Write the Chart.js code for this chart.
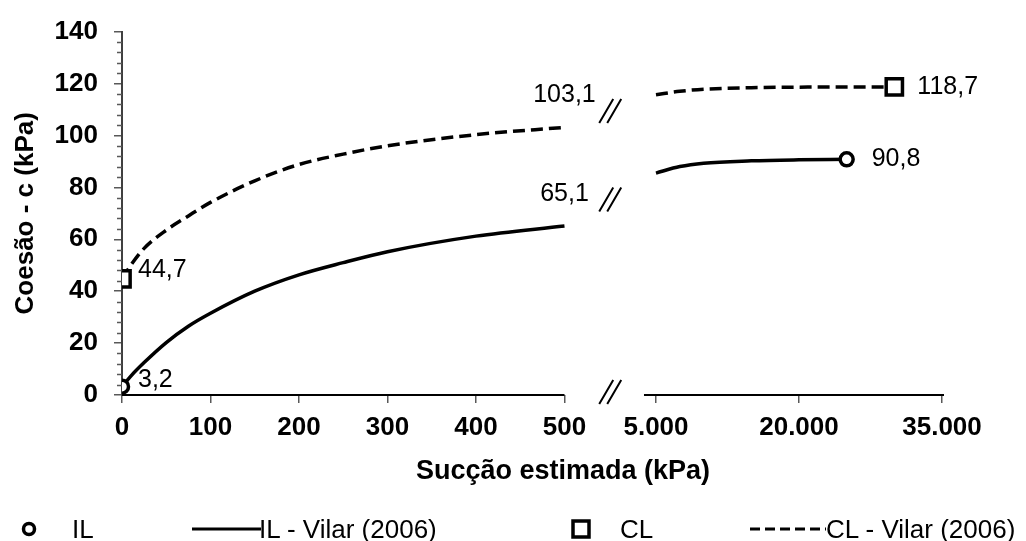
<!DOCTYPE html>
<html>
<head>
<meta charset="utf-8">
<script src="https://cdn.jsdelivr.net/npm/chart.js@4.4.1/dist/chart.umd.min.js"></script>
<style>
    body { margin: 0; background: #fff; }
    #wrap { position: relative; width: 1026px; height: 541px; }
    #legend { position: absolute; left: 0; top: 0; width: 1026px; height: 541px; pointer-events: none;
              font-family: 'Liberation Sans', Arial, sans-serif; font-size: 26px; color: #000; }
    .item { position: absolute; top: 514px; height: 30px; line-height: 30px; white-space: nowrap; }
    #xtitle { position: absolute; left: 363px; width: 400px; top: 454px; line-height: 32px; text-align: center;
              font-weight: bold; font-size: 27px; }
</style>
</head>
<body>
<div id="wrap">
    <canvas id="chart"></canvas>
    <div id="legend">
        <div id="xtitle">Sucção estimada (kPa)</div>
        <svg style="position:absolute;left:0;top:509px" width="1026" height="40">
            <circle cx="29" cy="20" r="5.5" fill="#fff" stroke="#000" stroke-width="3.5"/>
            <line x1="192" y1="20" x2="261" y2="20" stroke="#000" stroke-width="3"/>
            <rect x="573" y="12" width="16" height="16" fill="#fff" stroke="#000" stroke-width="3.5"/>
            <line x1="750" y1="20" x2="826" y2="20" stroke="#000" stroke-width="3" stroke-dasharray="10 5"/>
        </svg>
        <span class="item" style="left:72px">IL</span>
        <span class="item" style="left:259px">IL - Vilar (2006)</span>
        <span class="item" style="left:620px">CL</span>
        <span class="item" style="left:826px">CL - Vilar (2006)</span>
    </div>
</div>
<script>
// values: suction (kPa) vs cohesion c (kPa)
const ilSuction = [0, 10, 25, 50, 75, 100, 150, 200, 250, 300, 400, 500];
const ilCohesion = [3.2, 7.3, 12.5, 20.2, 26.5, 31.5, 40, 46.3, 51, 55.2, 61.2, 65.1];
const ilSuctionHigh = [5000, 7500, 10000, 15000, 20000, 25000];
const ilCohesionHigh = [85.5, 88, 89.3, 90.2, 90.6, 90.8];

const clSuction = [0, 10, 25, 50, 75, 100, 150, 200, 250, 300, 400, 500];
const clCohesion = [44.7, 50, 56.5, 63.5, 69, 74.2, 82.5, 88.8, 92.8, 96, 100.3, 103.1];
const clSuctionHigh = [5000, 7500, 10000, 15000, 20000, 30000];
const clCohesionHigh = [115.7, 117, 117.8, 118.4, 118.6, 118.7];

// measured points (markers)
const ilMeasSuction = [0, 25000];
const ilMeasCohesion = [3.2, 90.8];
const clMeasSuction = [0, 30000];
const clMeasCohesion = [44.7, 118.7];

// x axis ticks (axis is broken between 500 and 5.000)
const xTickValues = [0, 100, 200, 300, 400, 500, 5000, 20000, 35000];
const xTickLabels = ['0', '100', '200', '300', '400', '500', '5.000', '20.000', '35.000'];

// value labels: suction, cohesion
const labelSuction = [0, 0, 500, 500, 25000, 30000];
const labelCohesion = [3.2, 44.7, 65.1, 103.1, 90.8, 118.7];

// maps a suction value onto the broken axis
const LOW_END = 500;
const HIGH_START = 5000;
const HIGH_AT = 603.4;
const HIGH_FACTOR = 323.2 / 30000;
function toAxis(s) {
    if (s <= LOW_END) return s;
    return HIGH_AT + (s - HIGH_START) * HIGH_FACTOR;
}
const breakAt = (toAxis(LOW_END) + toAxis(HIGH_START)) / 2;

function toPoints(xs, ys) {
    return xs.map((x, i) => ({ x: toAxis(x), y: ys[i] }));
}

Chart.defaults.font.family = "'Liberation Sans', Arial, sans-serif";
Chart.defaults.color = '#000';

const solid = { borderColor: '#000', borderWidth: 3.5, pointRadius: 0, fill: false, cubicInterpolationMode: 'monotone' };
const dashed = Object.assign({}, solid, { borderDash: [12, 6] });
const marker = { showLine: false, borderColor: '#000', backgroundColor: '#fff', pointBorderWidth: 3.5 };

function middle(a, b) {
    return (a + b) / 2;
}

// draws the axis line with its gap, the // marks, minor ticks and value labels
const extrasPlugin = {
    id: 'extras',
    afterDatasetsDraw(chart) {
        const ctx = chart.ctx;
        const x = chart.scales.x;
        const y = chart.scales.y;
        const y0 = y.getPixelForValue(0);
        ctx.save();

        // x axis line, split
        ctx.strokeStyle = '#000';
        ctx.lineWidth = 2;
        ctx.beginPath();
        ctx.moveTo(x.getPixelForValue(0), y0);
        ctx.lineTo(x.getPixelForValue(toAxis(LOW_END)), y0);
        ctx.moveTo(x.getPixelForValue(toAxis(HIGH_START)) - 12, y0);
        ctx.lineTo(x.getPixelForValue(toAxis(35000)) + 2, y0);
        ctx.stroke();

        // minor ticks on y
        ctx.strokeStyle = '#595959';
        ctx.lineWidth = 1.5;
        ctx.beginPath();
        for (let v = 4; v < 140; v += 4) {
            if (v % 20 === 0) continue;
            const py = Math.round(y.getPixelForValue(v)) + 0.5;
            ctx.moveTo(x.left - 5, py);
            ctx.lineTo(x.left, py);
        }
        ctx.stroke();

        // break marks
        const bx = x.getPixelForValue(breakAt);
        const marks = [
            y0 - 3,
            y.getPixelForValue(middle(ilCohesion[ilCohesion.length - 1], ilCohesionHigh[0])),
            y.getPixelForValue(middle(clCohesion[clCohesion.length - 1], clCohesionHigh[0]))
        ];
        ctx.strokeStyle = '#000';
        ctx.lineWidth = 2;
        marks.forEach(my => {
            ctx.beginPath();
            [-4, 4].forEach(dx => {
                ctx.moveTo(bx + dx - 7, my + 12);
                ctx.lineTo(bx + dx + 7, my - 12);
            });
            ctx.stroke();
        });

        // value labels
        ctx.font = "25px 'Liberation Sans', Arial, sans-serif";
        ctx.fillStyle = '#000';
        ctx.textBaseline = 'middle';
        const offsets = [[16, -7, 'left'], [16, -9, 'left'], [0, -32, 'center'], [0, -32, 'center'], [25, 0, 'left'], [23, 0, 'left']];
        labelSuction.forEach((s, i) => {
            const px = x.getPixelForValue(toAxis(s));
            const py = y.getPixelForValue(labelCohesion[i]);
            const o = offsets[i];
            ctx.textAlign = o[2];
            ctx.fillText(labelCohesion[i].toFixed(1).replace('.', ','), px + o[0], py + o[1]);
        });
        ctx.restore();
    }
};

new Chart(document.getElementById('chart'), {
    type: 'line',
    data: {
        datasets: [
            Object.assign({ label: 'IL', data: toPoints(ilMeasSuction, ilMeasCohesion), pointStyle: 'circle', pointRadius: 6.5 }, marker),
            Object.assign({ label: 'CL', data: toPoints(clMeasSuction, clMeasCohesion), pointStyle: 'rect', pointRadius: 11.5 }, marker),
            Object.assign({ label: 'IL - Vilar (2006)', data: toPoints(ilSuction, ilCohesion) }, solid),
            Object.assign({ label: 'IL - Vilar (2006)', data: toPoints(ilSuctionHigh, ilCohesionHigh) }, solid),
            Object.assign({ label: 'CL - Vilar (2006)', data: toPoints(clSuction, clCohesion) }, dashed),
            Object.assign({ label: 'CL - Vilar (2006)', data: toPoints(clSuctionHigh, clCohesionHigh) }, dashed)
        ]
    },
    options: {
        responsive: true,
        maintainAspectRatio: false,
        animation: false,
        layout: { padding: { left: 0, right: 84, top: 27, bottom: 0 } },
        plugins: {
            legend: { display: false },
            tooltip: { enabled: false }
        },
        scales: {
            x: {
                type: 'linear',
                min: 0,
                max: toAxis(35000),
                border: { display: false },
                grid: { drawOnChartArea: false, tickLength: 8, color: '#595959', lineWidth: 1.5 },
                afterBuildTicks: (scale) => {
                    scale.ticks = xTickValues.map(v => ({ value: toAxis(v) }));
                },
                ticks: {
                    padding: 9,
                    maxRotation: 0,
                    autoSkip: false,
                    font: { size: 26, weight: 'bold' },
                    callback: (value, index) => xTickLabels[index]
                },
                afterFit: (scale) => { scale.height = 146; }
            },
            y: {
                min: 0,
                max: 140,
                border: { display: true, color: '#404040', width: 2 },
                grid: { drawOnChartArea: false, tickLength: 8, color: '#595959', lineWidth: 1.5 },
                ticks: { stepSize: 20, padding: 16, font: { size: 26, weight: 'bold' } },
                title: {
                    display: true,
                    text: 'Coesão - c (kPa)',
                    font: { size: 26, weight: 'bold' },
                    padding: { top: 10, bottom: 0 }
                },
                afterFit: (scale) => { scale.width = 122; }
            }
        }
    },
    plugins: [extrasPlugin]
});
</script>
</body>
</html>
